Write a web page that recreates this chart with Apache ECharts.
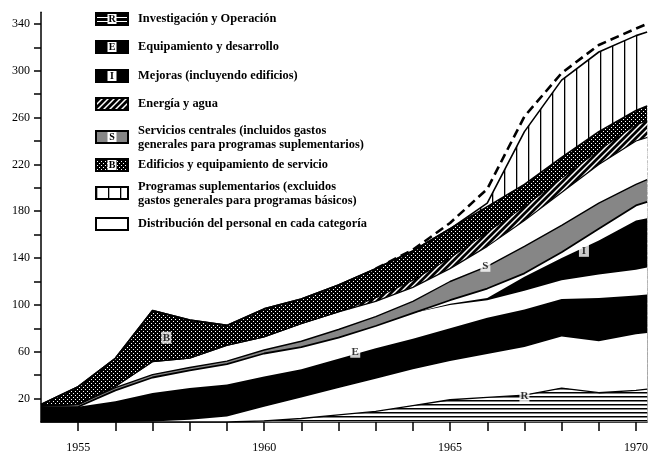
<!DOCTYPE html>
<html>
<head>
<meta charset="utf-8">
<script src="https://cdn.jsdelivr.net/npm/echarts@6/dist/echarts.min.js"></script>
<style>
html, body { margin: 0; padding: 0; background: #fff; }
#chart { width: 651px; height: 454px; }
</style>
</head>
<body>
<div id="chart"></div>
<script>
// Years on the horizontal axis (the last point is the right edge of the plot)
const years = [1954, 1955, 1956, 1957, 1958, 1959, 1960, 1961, 1962, 1963, 1964, 1965, 1966, 1967, 1968, 1969, 1970, 1970.3];

// Upper boundaries of each band, cumulative, in budget units
const researchTop   = [0, 0, 0, 0, 0, 0, 1, 3, 6, 9, 14, 19, 21, 23, 29, 25, 27, 28];
const equipBottom   = [0, 0, 0, 0.5, 2, 4.6, 13, 21, 29, 37, 45, 52, 58, 64, 73, 69, 75, 76];
const equipTop      = [12.5, 13, 17.7, 24.8, 29, 32, 38.8, 45, 54, 63, 71, 80, 89, 96, 105, 106, 108, 109];
const improvBottom  = [12.5, 13, 27, 38, 44, 49.5, 58.5, 64, 72, 82, 93, 100, 104, 112, 121, 126, 130, 132];
const improvTop     = [12.5, 13, 27, 38, 44, 49.5, 58.5, 64, 72, 82, 93, 101, 106, 124, 140, 155, 172, 174];
const servBottom    = [12.5, 13, 27, 38, 44, 49.5, 58.5, 64, 72, 82, 93, 104, 114, 127, 145, 165, 185, 188];
const servTop       = [13.5, 15, 29.3, 40.5, 46.5, 52, 61.5, 69, 79, 90, 103, 120, 133, 150, 168, 187, 203, 207];
const energyBottom  = [14, 15, 30.4, 51.5, 54.5, 65.5, 72.6, 84, 94, 103, 115, 131, 150, 172, 196, 220, 240, 243];
const buildBottom   = [14, 15, 30.4, 51.5, 54.5, 65.5, 72.6, 84, 94, 106, 121, 140, 162, 184, 208, 232, 254, 257];
const buildTop      = [15, 30.2, 54.4, 95.2, 87, 82.5, 96.6, 105, 117, 131, 146, 165, 184, 203, 226, 248, 266, 270];
const supplTop      = [15, 30.2, 54.4, 95.2, 87, 82.5, 96.6, 105, 117, 131, 146, 165, 187, 248, 292, 316, 330, 333];
const grandTotal    = [null, null, null, null, null, null, null, null, null, 131, 147, 170, 199, 261, 298, 322, 336, 340];

// Axis ticks and labels
const xTicks = [1955, 1956, 1957, 1958, 1959, 1960, 1961, 1962, 1963, 1964, 1965, 1966, 1967, 1968, 1969, 1970];
const xLabels = [1955, 1960, 1965, 1970];
const yTicks = [20, 40, 60, 80, 100, 120, 140, 160, 180, 200, 220, 240, 260, 280, 300, 320, 340];
const yLabels = [20, 60, 100, 140, 180, 220, 260, 300, 340];

// Letters placed inside the bands: [year, value, letter]
const bandLetters = [
  [1957.37, 72, 'B'],
  [1962.45, 60, 'E'],
  [1965.95, 133.4, 'S'],
  [1968.6, 146.2, 'I'],
  [1967.0, 21.7, 'R']
];

// Legend entries
const legendTexts = [
  ['Investigación y Operación'],
  ['Equipamiento y desarrollo'],
  ['Mejoras (incluyendo edificios)'],
  ['Energía y agua'],
  ['Servicios centrales (incluidos gastos', 'generales para programas suplementarios)'],
  ['Edificios y equipamiento de servicio'],
  ['Programas suplementarios (excluidos', 'gastos generales para programas básicos)'],
  ['Distribución del personal en cada categoría']
];
const legendLetters = ['R', 'E', 'I', '', 'S', 'B', '', ''];

// ---- fill patterns -------------------------------------------------------
function tile(w, h, draw) {
  const c = document.createElement('canvas');
  c.width = w; c.height = h;
  draw(c.getContext('2d'), w, h);
  return c;
}
const pat = c => ({ image: c, repeat: 'repeat' });

// paint a tile from rows of '1' (black) / '0' (white)
function bits(rows) {
  return tile(rows[0].length, rows.length, g => {
    g.fillStyle = '#fff'; g.fillRect(0, 0, rows[0].length, rows.length);
    g.fillStyle = '#000';
    rows.forEach((r, y) => { for (let x = 0; x < r.length; x++) if (r[x] === '1') g.fillRect(x, y, 1, 1); });
  });
}

const hLines = pat(tile(8, 4, g => {
  g.fillStyle = '#fff'; g.fillRect(0, 0, 8, 4);
  g.fillStyle = '#000'; g.fillRect(0, 0, 8, 1.5);
}));
const hLinesDark = pat(tile(8, 4, g => {
  g.fillStyle = '#000'; g.fillRect(0, 0, 8, 4);
  g.fillStyle = '#fff'; g.fillRect(0, 1, 8, 1);
}));
const greyScreen = '#868686';
const dots = pat(bits([
  '1111',
  '1011',
  '1111',
  '1110'
]));
const hatch = pat(tile(6, 6, g => {
  g.fillStyle = '#fff'; g.fillRect(0, 0, 6, 6);
  g.strokeStyle = '#000'; g.lineWidth = 2.8;
  g.beginPath();
  g.moveTo(-1, 7); g.lineTo(7, -1);
  g.moveTo(-4, 4); g.lineTo(4, -4);
  g.moveTo(2, 10); g.lineTo(10, 2);
  g.stroke();
}));
const vLines = pat(tile(12, 4, g => {
  g.fillStyle = '#fff'; g.fillRect(0, 0, 12, 4);
  g.fillStyle = '#000'; g.fillRect(0, 0, 1.3, 4);
}));

// ---- bands ----------------------------------------------------------------
// Each band is an area filled down to zero; lower bands are drawn later so they
// cover the upper ones, leaving visible strips between consecutive boundaries.
function band(values, fill, lineWidth) {
  return {
    type: 'line',
    data: years.map((y, i) => [y, values[i]]),
    symbol: 'none',
    silent: true,
    lineStyle: { color: '#000', width: lineWidth || 0, opacity: lineWidth ? 1 : 0 },
    areaStyle: { color: fill, opacity: 1 }
  };
}

const series = [
  band(supplTop, vLines, 1.6),
  band(buildTop, dots, 1.6),
  band(buildBottom, hatch, 1),
  band(energyBottom, '#fff', 1.2),
  band(servTop, greyScreen, 1.4),
  band(servBottom, '#fff', 1.8),
  band(improvTop, '#000', 0),
  band(improvBottom, '#fff', 0),
  band(equipTop, '#000', 0),
  band(equipBottom, '#fff', 0),
  band(researchTop, hLines, 1.3),
  {
    type: 'line',
    data: years.map((y, i) => [y, grandTotal[i]]),
    symbol: 'none',
    silent: true,
    connectNulls: false,
    lineStyle: { color: '#000', width: 2.6, type: [9, 5] },
    z: 5
  },
  {
    type: 'scatter',
    data: bandLetters,
    symbol: 'rect',
    symbolSize: [10, 12],
    silent: true,
    itemStyle: { color: '#fff' },
    label: {
      show: true, position: 'inside', formatter: p => p.value[2],
      color: '#000', fontFamily: 'Liberation Serif', fontWeight: 'bold', fontSize: 11
    },
    z: 6
  }
];

// ---- legend drawn as graphics ----------------------------------------------
const legendFills = [hLinesDark, '#000', '#000', hatch, greyScreen, dots, vLines, '#fff'];
const rowY = [19, 47, 76, 104, 137, 165, 193, 224];
const graphic = [];
legendTexts.forEach((lines, i) => {
  const cy = rowY[i];
  graphic.push({
    type: 'rect', silent: true,
    shape: { x: 96, y: cy - 6, width: 32, height: 12 },
    style: { fill: legendFills[i], stroke: '#000', lineWidth: 2 }
  });
  if (legendLetters[i]) {
    graphic.push({
      type: 'rect', silent: true,
      shape: { x: 107.5, y: cy - 5, width: 9, height: 10 },
      style: { fill: '#fff' }
    });
    graphic.push({
      type: 'text', silent: true, x: 112, y: cy + 0.5,
      style: {
        text: legendLetters[i], fill: '#000', align: 'center', verticalAlign: 'middle',
        font: 'bold 10px "Liberation Serif"'
      }
    });
  }
  const y0 = lines.length === 1 ? cy : cy - 6;
  lines.forEach((t, k) => {
    graphic.push({
      type: 'text', silent: true, x: 138, y: y0 + k * 14,
      style: {
        text: t, fill: '#000', verticalAlign: 'middle',
        font: 'bold 12.4px "Liberation Serif"'
      }
    });
  });
});

const chart = echarts.init(document.getElementById('chart'), null, { renderer: 'canvas' });
chart.setOption({
  animation: false,
  backgroundColor: '#fff',
  grid: { left: 41, top: 12.2, width: 609.6, height: 410.2 },
  xAxis: {
    type: 'value', min: 1954, max: 1970.3,
    axisLine: { show: true, lineStyle: { color: '#000', width: 1.5 } },
    axisTick: { show: true, customValues: xTicks, length: 9, lineStyle: { color: '#000', width: 1.5 } },
    axisLabel: {
      customValues: xLabels, margin: 20, color: '#000',
      fontFamily: 'Liberation Serif', fontSize: 12, formatter: v => String(v)
    },
    splitLine: { show: false }
  },
  yAxis: {
    type: 'value', min: 0, max: 350,
    axisLine: { show: true, lineStyle: { color: '#000', width: 1.5 } },
    axisTick: { show: true, customValues: yTicks, length: 7, lineStyle: { color: '#000', width: 1.5 } },
    axisLabel: {
      customValues: yLabels, margin: 11, color: '#000',
      fontFamily: 'Liberation Serif', fontSize: 12, formatter: v => String(v)
    },
    splitLine: { show: false }
  },
  series: series,
  graphic: graphic
});
</script>
</body>
</html>
